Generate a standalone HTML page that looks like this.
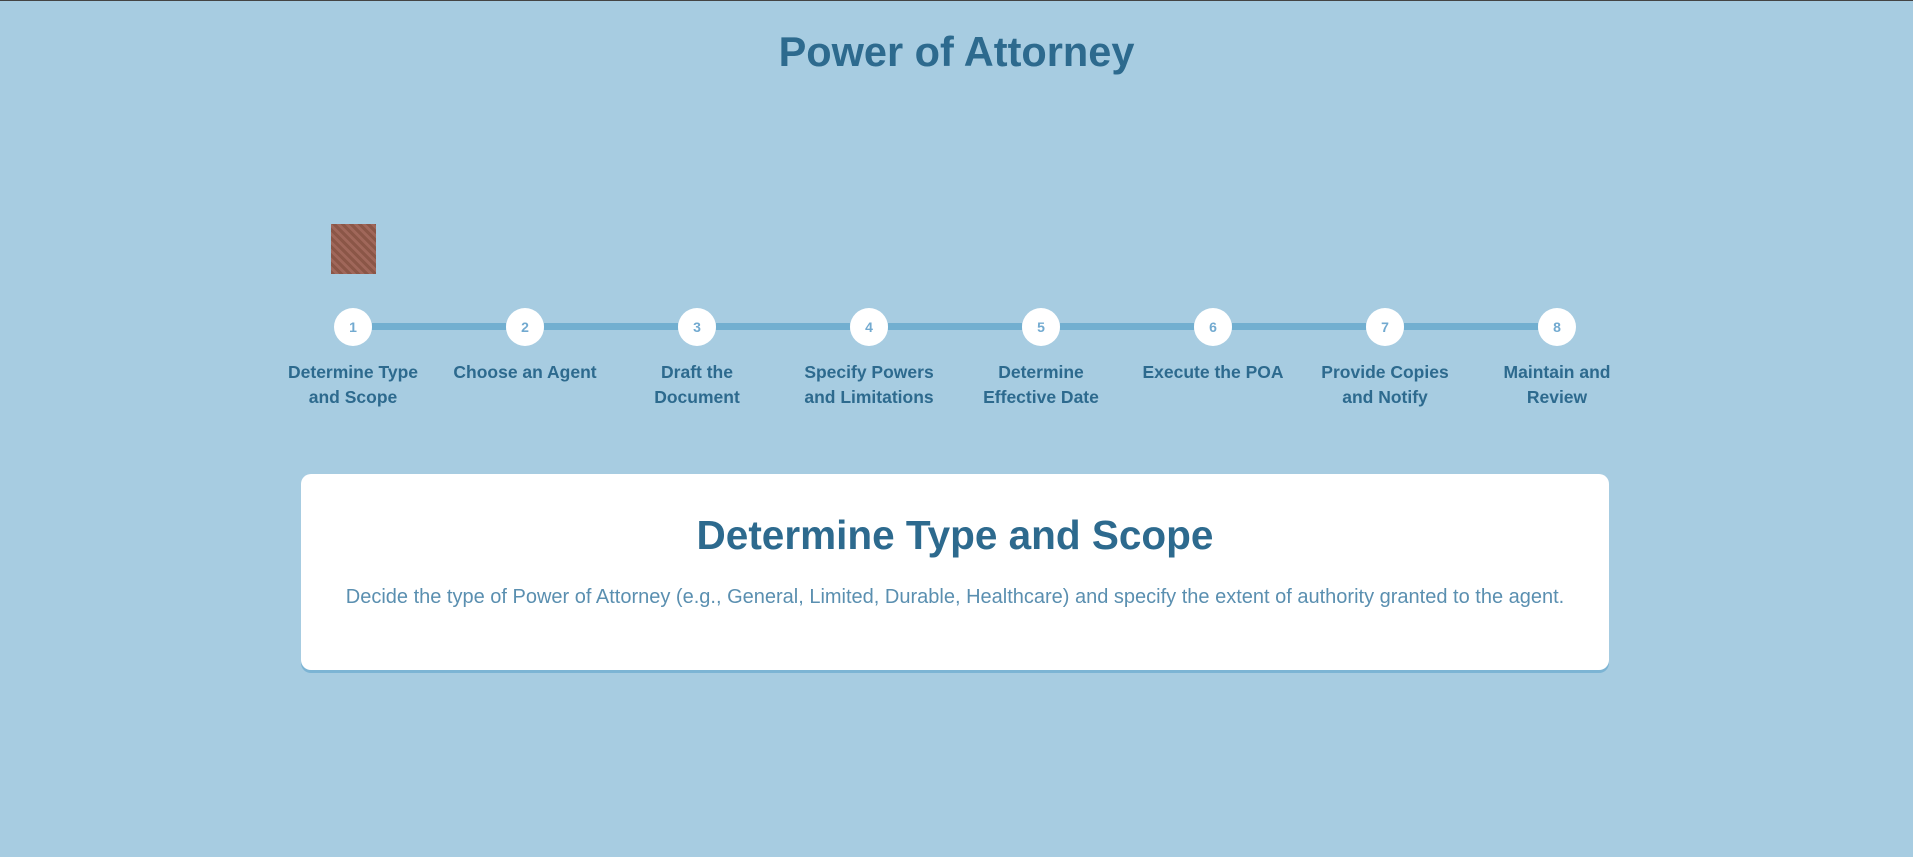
<!DOCTYPE html>
<html><head><meta charset="utf-8"><style>
body{margin:0;width:1913px;height:857px;background:#a7cce1;font-family:"Liberation Sans",sans-serif;position:relative;overflow:hidden;border-top:1px solid #444;box-sizing:border-box}
.title{position:absolute;top:27px;left:0;width:100%;text-align:center;font-size:41.5px;font-weight:bold;color:#2d6a8e}
.sq{position:absolute;left:331px;top:223px;width:45px;height:50px;background:repeating-linear-gradient(45deg,#8b5647 0 3px,#a0675a 3px 6px)}
.line{position:absolute;top:322px;height:7px;background:#72afd0}
.c{position:absolute;width:38px;height:38px;border-radius:50%;background:#fff;color:#72aad0;font-weight:bold;font-size:14px;text-align:center;line-height:38px;top:307px}
.lab{position:absolute;top:359px;width:170px;text-align:center;font-size:17.5px;font-weight:bold;color:#2d6a8e;line-height:25px}
.card{position:absolute;left:301px;top:473px;width:1308px;height:196px;background:#fff;border-radius:10px;box-shadow:0 3px 0 #7cb4d4}
.card h2{margin:0;position:absolute;top:38px;width:100%;text-align:center;font-size:40.5px;color:#2d6a8e}
.card p{margin:0;position:absolute;top:112px;width:100%;text-align:center;font-size:20px;color:#5a8fb0}
</style></head><body>
<div class="title">Power of Attorney</div>
<div class="sq"></div>
<div id="steps"></div>
<div class="card">
<h2>Determine Type and Scope</h2>
<p>Decide the type of Power of Attorney (e.g., General, Limited, Durable, Healthcare) and specify the extent of authority granted to the agent.</p>
</div>
<script>
const labels=["Determine Type<br>and Scope","Choose an Agent","Draft the<br>Document","Specify Powers<br>and Limitations","Determine<br>Effective Date","Execute the POA","Provide Copies<br>and Notify","Maintain and<br>Review"];
const s=document.getElementById('steps');
const x0=353,dx=172;
for(let i=0;i<labels.length;i++){
 const cx=x0+i*dx;
 if(i<labels.length-1){const l=document.createElement('div');l.className='line';l.style.left=(cx+19)+'px';l.style.width=(dx-38)+'px';
 
 
 s.appendChild(l);}
 const c=document.createElement('div');c.className='c';c.style.left=(cx-19)+'px';c.textContent=i+1;
 
 
 s.appendChild(c);
 const t=document.createElement('div');t.className='lab';t.style.left=(cx-85)+'px';t.innerHTML=labels[i];
 
 
 s.appendChild(t);
}
</script>
</body></html>
